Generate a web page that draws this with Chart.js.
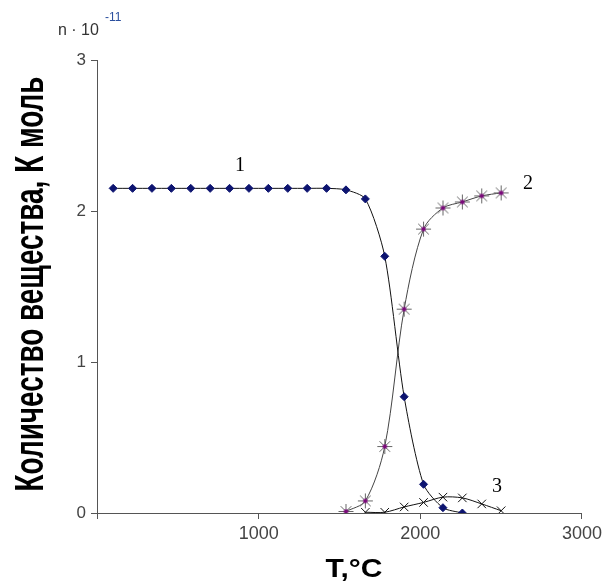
<html>
<head>
	<title>Количество вещества</title>
	<meta charset="utf-8">
	<script src="https://cdn.jsdelivr.net/npm/chart.js"></script>
	<style>
		body { margin: 0; background: #fff; }
		#wrap { width: 606px; height: 583px; }
	</style>
</head>
<body>
	<div id="wrap">
		<canvas id="myChart" width="606" height="583"></canvas>
	</div>

	<script type="text/javascript" charset="utf-8">
		// кривая 1
		var temps1 = [100, 220, 340, 460, 580, 700, 820, 940, 1060, 1180, 1300, 1420, 1540, 1660, 1780, 1900, 2020, 2140, 2260];
		var amount1 = [2.15, 2.15, 2.15, 2.15, 2.15, 2.15, 2.15, 2.15, 2.15, 2.15, 2.15, 2.15, 2.14, 2.08, 1.70, 0.77, 0.19, 0.035, 0.0];
		// кривая 2
		var temps2 = [1540, 1660, 1780, 1900, 2020, 2140, 2260, 2380, 2500];
		var amount2 = [0.01, 0.08, 0.44, 1.35, 1.88, 2.02, 2.06, 2.10, 2.12];
		// кривая 3
		var temps3 = [1660, 1780, 1900, 2020, 2140, 2260, 2380, 2500];
		var amount3 = [0.005, 0.005, 0.04, 0.07, 0.105, 0.10, 0.06, 0.015];

		var xTicks = [0, 1000, 2000, 3000];
		var yTicks = [0, 1, 2, 3];

		function toPoints(xs, ys) {
			return xs.map(function(x, i) { return {x: x, y: ys[i]}; });
		}

		// звездочка: серые лучи, фиолетовый центр
		var star = document.createElement('canvas');
		star.width = 17; star.height = 17;
		var sc = star.getContext('2d');
		sc.strokeStyle = '#666';
		sc.lineWidth = 1;
		for (var k = 0; k < 4; k++) {
			var a = k * Math.PI / 4;
			sc.beginPath();
			sc.moveTo(8.5 - 7.5 * Math.cos(a), 8.5 - 7.5 * Math.sin(a));
			sc.lineTo(8.5 + 7.5 * Math.cos(a), 8.5 + 7.5 * Math.sin(a));
			sc.stroke();
		}
		sc.fillStyle = '#7a0a7a';
		sc.beginPath();
		sc.arc(8.5, 8.5, 2.3, 0, 2 * Math.PI);
		sc.fill();

		var labelsPlugin = {
			id: 'labels',
			afterDraw: function(chart) {
				var ctx = chart.ctx;
				ctx.save();

				// n·10^-11
				ctx.fillStyle = '#333';
				ctx.textBaseline = 'alphabetic';
				ctx.textAlign = 'left';
				ctx.font = '16px "Liberation Sans", Arial, sans-serif';
				ctx.fillText('n · 10', 58, 35);
				ctx.fillStyle = '#2b4f9e';
				ctx.font = '12px "Liberation Sans", Arial, sans-serif';
				ctx.fillText('-11', 105, 21);

				// номера кривых
				ctx.fillStyle = '#000';
				ctx.textAlign = 'center';
				ctx.textBaseline = 'middle';
				ctx.font = '20px "Liberation Serif", "Times New Roman", serif';
				ctx.fillText('1', 240, 166);
				ctx.fillText('2', 528, 184);
				ctx.fillText('3', 497, 487);

				// подпись оси Y (сжатая по длине)
				var yTitle = 'Количество вещества, К моль';
				ctx.font = 'bold 30px "Liberation Sans", Arial, sans-serif';
				var w = ctx.measureText(yTitle).width;
				ctx.save();
				ctx.translate(32, 284);
				ctx.rotate(-Math.PI / 2);
				ctx.scale(415 / w, 1.35);
				ctx.fillText(yTitle, 0, 0);
				ctx.restore();

				// подпись оси X
				ctx.save();
				ctx.translate(354, 570);
				ctx.scale(1, 0.85);
				ctx.font = 'bold 30px "Liberation Sans", Arial, sans-serif';
				ctx.fillText('T,°C', 0, 0);
				ctx.restore();

				ctx.restore();
			}
		};

		var ctx = document.getElementById('myChart').getContext('2d');
		var config = {
			type: 'scatter',
			data: {
				datasets: [
					{
						label: '1',
						data: toPoints(temps1, amount1),
						showLine: true,
						tension: 0.25,
						borderColor: '#111',
						borderWidth: 1,
						pointStyle: 'rectRot',
						pointRadius: 4,
						pointBackgroundColor: '#0d1470',
						pointBorderColor: '#0d1470',
						pointBorderWidth: 1
					},
					{
						label: '2',
						data: toPoints(temps2, amount2),
						showLine: true,
						tension: 0.3,
						borderColor: '#444',
						borderWidth: 1,
						pointStyle: star
					},
					{
						label: '3',
						data: toPoints(temps3, amount3),
						showLine: true,
						tension: 0.3,
						borderColor: '#111',
						borderWidth: 1,
						pointStyle: 'crossRot',
						pointRadius: 6,
						pointBorderColor: '#111',
						pointBorderWidth: 1
					}
				]
			},
			options: {
				responsive: false,
				animation: false,
				devicePixelRatio: 1,
				layout: {
					padding: {top: 60, right: 24, left: 0, bottom: 0}
				},
				plugins: {
					legend: { display: false },
					tooltip: { enabled: false }
				},
				scales: {
					x: {
						type: 'linear',
						min: 0,
						max: 3000,
						afterBuildTicks: function(scale) {
							scale.ticks = xTicks.map(function(v) { return {value: v}; });
						},
						afterFit: function(scale) { scale.height = 70; },
						ticks: {
							padding: 4,
							color: '#444',
							font: { size: 18, family: '"Liberation Sans", Arial, sans-serif' },
							maxRotation: 0,
							callback: function(v) { return v === 0 ? '' : v; }
						},
						grid: {
							drawOnChartArea: false,
							drawTicks: true,
							tickLength: 6,
							color: '#555'
						},
						border: { color: '#555', width: 1 }
					},
					y: {
						min: 0,
						max: 3,
						afterBuildTicks: function(scale) {
							scale.ticks = yTicks.map(function(v) { return {value: v}; });
						},
						afterFit: function(scale) { scale.width = 97; },
						ticks: {
							padding: 5,
							color: '#444',
							font: { size: 17, family: '"Liberation Sans", Arial, sans-serif' }
						},
						grid: {
							drawOnChartArea: false,
							drawTicks: true,
							tickLength: 6,
							color: '#555'
						},
						border: { color: '#555', width: 1 }
					}
				}
			},
			plugins: [labelsPlugin]
		};
		var myChart = new Chart(ctx, config);
	</script>
</body>
</html>
